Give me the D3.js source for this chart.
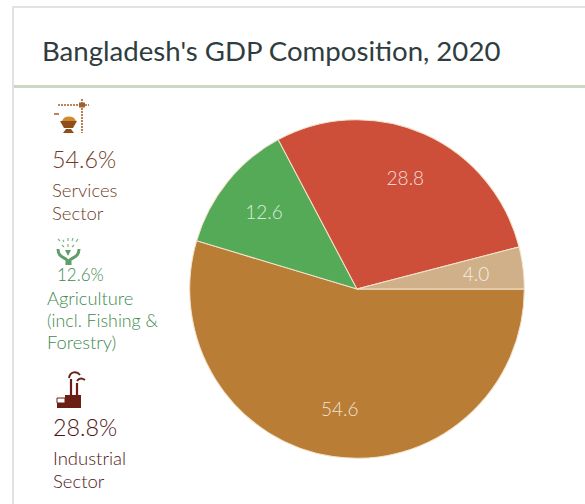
<!DOCTYPE html>
<meta charset="utf-8">
<style>
html, body { margin: 0; padding: 0; background: #fff; }
svg { display: block; font-family: "Lato Light", Lato, sans-serif; }
</style>
<svg width="585" height="504"></svg>
<script src="https://d3js.org/d3.v7.min.js"></script>
<script>

var sectors = ["Services", "Agriculture", "Industrial", "Other"];
var values = [54.6, 12.6, 28.8, 4.0];
var valueLabels = ["54.6", "12.6", "28.8", "4.0"];
var sliceColors = ["#b97d35", "#55aa58", "#cd4f3a", "#cfb088"];

var svg = d3.select("svg");

// card frame
svg.append("rect").attr("x", 0).attr("y", 0).attr("width", 585).attr("height", 504).attr("fill", "#fff");
svg.append("path").attr("d", "M585,7H13V504").attr("fill", "none").attr("stroke", "#e2e2e0").attr("stroke-width", 2);
svg.append("rect").attr("x", 14).attr("y", 85).attr("width", 571).attr("height", 3).attr("fill", "#ccd8c4");

svg.append("text")
    .attr("x", 42).attr("y", 61)
    .attr("fill", "#2f3d40")
    .style("font-family", "Lato, sans-serif")
    .style("font-size", "27.6px")
    .style("font-weight", 400)
    .text("Bangladesh's GDP Composition, 2020");

// pie, the source picture is a touch taller than wide
var cx = 357, cy = 289, radius = 167.3;
var pie = d3.pie().sort(null).startAngle(Math.PI / 2).endAngle(Math.PI * 2.5);
var arc = d3.arc().innerRadius(0).outerRadius(radius);
var labelArc = d3.arc().innerRadius(240 - radius).outerRadius(radius);
var g = svg.append("g").attr("transform", "translate(" + cx + "," + cy + ") scale(1,1.012)");
var arcs = pie(values);

g.selectAll("path").data(arcs).enter().append("path")
    .attr("d", arc)
    .attr("fill", function(d, i) { return sliceColors[i]; })
    .attr("stroke", "#f3e3cc")
    .attr("stroke-width", 1);

g.selectAll("text").data(arcs).enter().append("text")
    .attr("transform", function(d) { return "translate(" + labelArc.centroid(d) + ")"; })
    .attr("dy", "0.35em")
    .attr("text-anchor", "middle")
    .attr("fill", "#fff")
    .attr("fill-opacity", 0.8)
    .style("font-size", "19px")
    .style("font-weight", 300)
    .text(function(d, i) { return valueLabels[i]; });

// left side legend
function textBlock(x, ys, lines, color, sizes) {
  lines.forEach(function(t, i) {
    svg.append("text").attr("x", x[i]).attr("y", ys[i]).attr("fill", color)
      .style("font-size", sizes[i] + "px").style("font-weight", 300).text(t);
  });
}
textBlock([52, 52, 52], [168, 197, 220], ["54.6%", "Services", "Sector"], "#6f3c26", [23.3, 18.5, 18.5]);
textBlock([57, 47, 47, 47], [281, 305, 327, 349], ["12.6%", "Agriculture", "(incl. Fishing &", "Forestry)"], "#408a50", [17, 18.3, 17.8, 18.3]);
textBlock([53, 53, 53], [436, 465, 488], ["28.8%", "Industrial", "Sector"], "#4f1515", [23.3, 18.5, 18.5]);

// crane + helmet icon
var crane = svg.append("g").attr("transform", "translate(30,90)");
crane.append("path").attr("d", "M28,15H59M52,9V43").attr("stroke", "#a0622c").attr("stroke-width", 1.6).attr("stroke-dasharray", "2 1").attr("fill", "none");
crane.append("rect").attr("x", 49).attr("y", 12.5).attr("width", 6).attr("height", 5).attr("fill", "#a0622c");
crane.append("path").attr("d", "M24,24H29").attr("stroke", "#a0622c").attr("stroke-width", 1.5);
crane.append("path").attr("d", "M32,31A7.5,7 0 0 1 46,31Z").attr("fill", "#d08a2e");
crane.append("path").attr("d", "M30,31H47L43,38H34ZM36,39H41L44,43H33Z").attr("fill", "#8f4f1c");

// hands + leaves icon
var hands = svg.append("g").attr("transform", "translate(30,230)");
hands.append("path").attr("d", "M28,19C28,27 34,27 37,30V35M49,19C49,27 43,27 40,30V35").attr("stroke", "#5f9e68").attr("stroke-width", 3).attr("fill", "none");
hands.append("path").attr("d", "M35,20L41,20L38,26Z").attr("fill", "#5f9e68");
hands.append("path").attr("d", "M28,9L30,11M33,10L34,12M38,8L38,11M43,8L42,11M48,9L46,12M32,15L34,17M38,14L38,17M44,15L42,17")
    .attr("stroke", "#7db585").attr("stroke-width", 1.2);

// factory icon
var factory = svg.append("g").attr("transform", "translate(30,360)");
factory.append("path").attr("d", "M41,36V19M47,36V23").attr("stroke", "#6b1f14").attr("stroke-width", 2.2);
factory.append("path").attr("d", "M39,18C40,11 47,11 50,15M47,21C49,18 52,18 55,20").attr("stroke", "#6b1f14").attr("stroke-width", 2).attr("fill", "none");
factory.append("path").attr("d", "M27,38L35,38L35,43H27Z").attr("fill", "none").attr("stroke", "#6b1f14");
factory.append("path").attr("d", "M35,43V35H51V48H27V43Z").attr("fill", "#6b1f14");

</script>
